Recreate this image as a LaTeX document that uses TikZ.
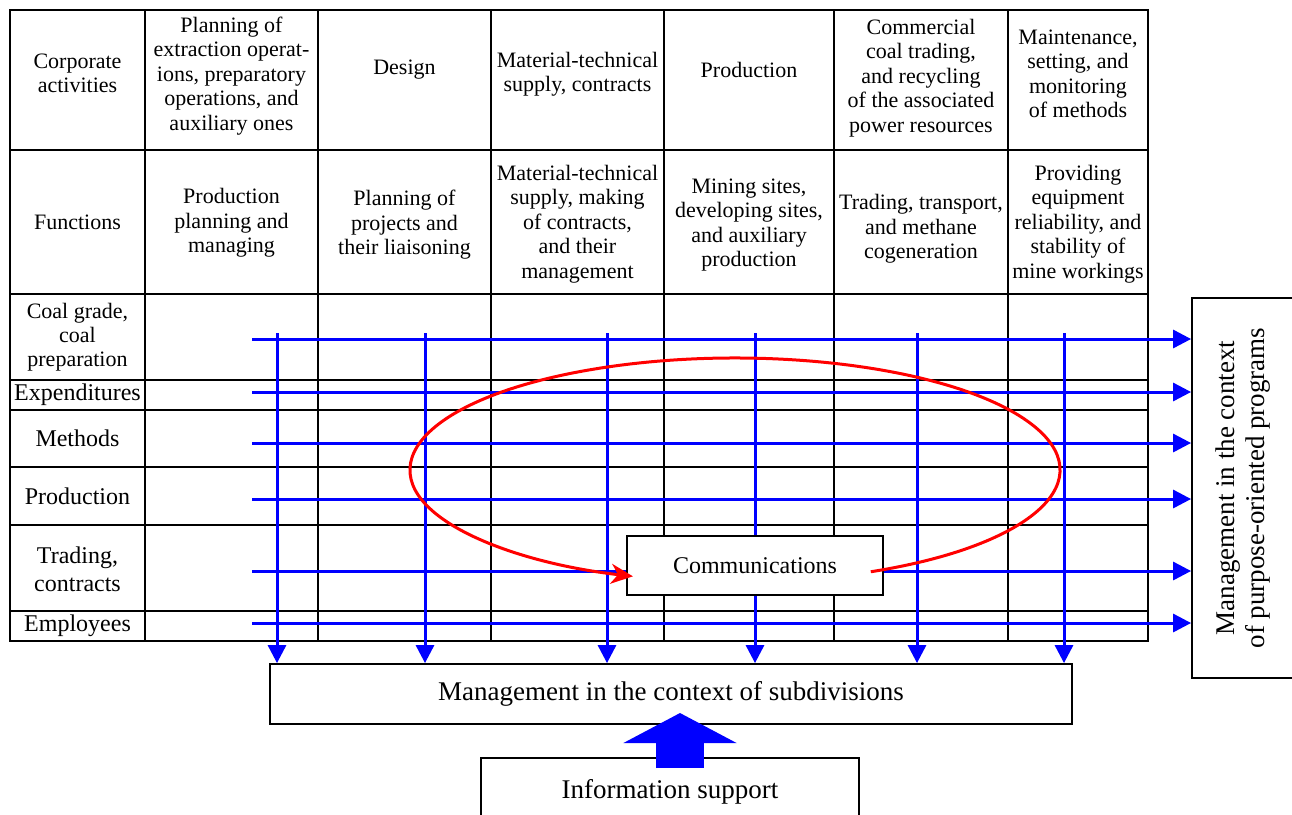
\documentclass[tikz,border=0pt]{standalone}
\usepackage{fontspec}
\setmainfont{LiberationSerif}[Extension=.ttf,UprightFont=*-Regular,BoldFont=*-Bold,ItalicFont=*-Italic,BoldItalicFont=*-BoldItalic]
\usetikzlibrary{arrows.meta,calc}
\begin{document}
\begin{tikzpicture}[x=1pt,y=1pt,
  grid/.style={line width=2pt, black},
  cell/.style={align=center, inner sep=0pt, font=\fontsize{22}{24.5}\selectfont},
  rowlab/.style={align=center, inner sep=0pt, font=\fontsize{24}{28}\selectfont},
  blu/.style={draw=blue, line width=3pt, -{Triangle[length=18pt,width=18pt]}},
  box/.style={draw, line width=1.8pt, fill=white, inner sep=0pt},
  redarc/.style={draw=red, line width=3pt, -{Stealth[length=22pt,width=20pt,inset=7pt]}},
  bigarrow/.style={draw=blue, line width=48pt, line cap=butt, -{Triangle[length=30pt,width=112pt]}},
]
\useasboundingbox (0,0) rectangle (1292,-814);
% table grid
\draw[grid] (10,-10) rectangle (1148,-641);
\foreach \x in {145,318,491,664,834,1008} \draw[grid] (\x,-10) -- (\x,-641);
\foreach \y in {150,294,380,410,467,525,611} \draw[grid] (10,-\y) -- (1148,-\y);
% header row
\node[cell] (ca0) at (77.5,-73.5) {Corporate\\activities};
\node[cell] (ca1) at (231.5,-76) {Planning of\\extraction operat-\\ions, preparatory\\operations, and\\auxiliary ones};
\node[cell] (ca2) at (404.5,-70) {Design};
\node[cell] (ca3) at (577.5,-74) {Material-technical\\supply, contracts};
\node[cell] (ca4) at (749,-70) {Production};
\node[cell] (ca5) at (921,-78) {Commercial\\coal trading,\\and recycling\\of the associated\\power resources};
\node[cell] (ca6) at (1078,-74) {Maintenance,\\setting, and\\monitoring\\of methods};
% functions row
\node[cell] (fn0) at (77.5,-222) {Functions};
\node[cell] (fn1) at (231.5,-223) {Production\\planning and\\managing};
\node[cell] (fn2) at (404.5,-225) {Planning of\\projects and\\their liaisoning};
\node[cell] (fn3) at (577.5,-224) {Material-technical\\supply, making\\of contracts,\\and their\\management};
\node[cell] (fn4) at (749,-225) {Mining sites,\\developing sites,\\and auxiliary\\production};
\node[cell] (fn5) at (921,-229) {Trading, transport,\\and methane\\cogeneration};
\node[cell] (fn6) at (1078,-224) {Providing\\equipment\\reliability, and\\stability of\\mine workings};
% row labels
\node[cell, font=\fontsize{22}{24}\selectfont] (rl1) at (77.5,-337) {Coal grade,\\coal\\preparation};
\node[rowlab] (rl2) at (77.5,-395) {Expenditures};
\node[rowlab] (rl3) at (77.5,-438.5) {Methods};
\node[rowlab] (rl4) at (77.5,-496) {Production};
\node[rowlab] (rl5) at (77.5,-569) {Trading,\\contracts};
\node[rowlab] (rl6) at (77.5,-626) {Employees};
% target boxes
\node[box, minimum width=102, minimum height=380] (prog) at (1243,-488) {};
\node[rotate=90, align=center, inner sep=0pt, font=\fontsize{27}{30}\selectfont] (progt) at (prog.center) {Management in the context\\of purpose-oriented programs};
\node[box, minimum width=802, minimum height=60, font=\fontsize{27}{30}\selectfont] (sub) at (671,-694) {Management in the context of subdivisions};
% blue horizontal arrows
\foreach \y [count=\i] in {339,392,443,499,571,623} {
  \coordinate (hs\i) at (252,-\y);
  \draw[blu] (hs\i) -- (hs\i -| prog.west);
}
% blue vertical arrows
\foreach \x [count=\i] in {277,425,607,755,917,1064} {
  \coordinate (vs\i) at (\x,-333);
  \draw[blu] (vs\i) -- (vs\i |- sub.north);
}
% communications box
\node[box, minimum width=256, minimum height=59, font=\fontsize{24}{28}\selectfont] (comm) at (755,-565.5) {Communications};
% red loop
\coordinate (ellc) at (735,-470);
\draw[redarc] ($(ellc)+(-65.3:325 and 112)$) arc[start angle=-65.3, end angle=251.7, x radius=325, y radius=112];
% information support
\node[draw, line width=1.5pt, fill=white, minimum width=378, minimum height=68, anchor=north, inner sep=0pt, font=\fontsize{27}{30}\selectfont] (info) at (670,-757) {Information support};
\coordinate (ia) at (680,-768);
\coordinate (ib) at (680,-713);
\draw[bigarrow] (ia) -- (ib);
\end{tikzpicture}
\end{document}
